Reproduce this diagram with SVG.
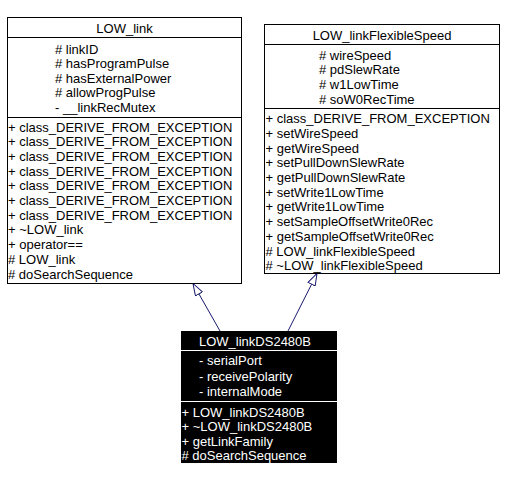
<svg xmlns="http://www.w3.org/2000/svg" width="505" height="481" viewBox="0 0 505 481">
<style>
text{font-family:"Liberation Sans",Arial,Helvetica,sans-serif;font-size:13px;fill:#000}
.w text{fill:#fff}
.box{fill:#fff;stroke:#000;stroke-width:1}
.sep{stroke:#000;stroke-width:1}
.wsep{stroke:#fff;stroke-width:1}
.edge{stroke:#191970;stroke-width:1;fill:none;marker-end:url(#inh)}
.t{text-anchor:middle}
</style>
<defs>
<marker id="inh" viewBox="0 0 13 9" refX="12.5" refY="4.5" markerWidth="13" markerHeight="9" markerUnits="userSpaceOnUse" orient="auto">
<path d="M0.5,0.5 L12.5,4.5 L0.5,8.5 Z" fill="#fff" stroke="#191970" stroke-width="1"/>
</marker>
</defs>
<g id="connectors">
<line class="edge" x1="220" y1="331" x2="193" y2="283.5"/>
<line class="edge" x1="288" y1="331" x2="317" y2="273.5"/>
</g>
<g id="LOW_link">
<rect class="box" x="7.5" y="17.5" width="234" height="266"/>
<line class="sep" x1="7.5" y1="37.5" x2="241.5" y2="37.5"/>
<line class="sep" x1="7.5" y1="117.5" x2="241.5" y2="117.5"/>
<text class="t" x="124.5" y="32.5">LOW_link</text>
<text x="55" y="53.5"># linkID</text>
<text x="55" y="68"># hasProgramPulse</text>
<text x="55" y="82.5"># hasExternalPower</text>
<text x="55" y="97"># allowProgPulse</text>
<text x="55" y="111.5">- __linkRecMutex</text>
<text x="8" y="131.5">+ class_DERIVE_FROM_EXCEPTION</text>
<text x="8" y="146.2">+ class_DERIVE_FROM_EXCEPTION</text>
<text x="8" y="160.9">+ class_DERIVE_FROM_EXCEPTION</text>
<text x="8" y="175.6">+ class_DERIVE_FROM_EXCEPTION</text>
<text x="8" y="190.3">+ class_DERIVE_FROM_EXCEPTION</text>
<text x="8" y="205">+ class_DERIVE_FROM_EXCEPTION</text>
<text x="8" y="219.7">+ class_DERIVE_FROM_EXCEPTION</text>
<text x="8" y="234.4">+ ~LOW_link</text>
<text x="8" y="249.1">+ operator==</text>
<text x="8" y="263.8"># LOW_link</text>
<text x="8" y="278.5"># doSearchSequence</text>
</g>
<g id="LOW_linkFlexibleSpeed">
<rect class="box" x="264.5" y="24.5" width="235" height="249"/>
<line class="sep" x1="264.5" y1="44.5" x2="499.5" y2="44.5"/>
<line class="sep" x1="264.5" y1="108.5" x2="499.5" y2="108.5"/>
<text class="t" x="382" y="39.5">LOW_linkFlexibleSpeed</text>
<text x="319" y="59.5"># wireSpeed</text>
<text x="319" y="74.2"># pdSlewRate</text>
<text x="319" y="88.9"># w1LowTime</text>
<text x="319" y="103.6"># soW0RecTime</text>
<text x="265.5" y="123.2">+ class_DERIVE_FROM_EXCEPTION</text>
<text x="265.5" y="137.9">+ setWireSpeed</text>
<text x="265.5" y="152.6">+ getWireSpeed</text>
<text x="265.5" y="167.3">+ setPullDownSlewRate</text>
<text x="265.5" y="182">+ getPullDownSlewRate</text>
<text x="265.5" y="196.7">+ setWrite1LowTime</text>
<text x="265.5" y="211.4">+ getWrite1LowTime</text>
<text x="265.5" y="226.1">+ setSampleOffsetWrite0Rec</text>
<text x="265.5" y="240.8">+ getSampleOffsetWrite0Rec</text>
<text x="265.5" y="255.5"># LOW_linkFlexibleSpeed</text>
<text x="265.5" y="270.2"># ~LOW_linkFlexibleSpeed</text>
</g>
<g id="LOW_linkDS2480B" class="w">
<rect x="181" y="331" width="156" height="132" fill="#000"/>
<line class="wsep" x1="181" y1="350.5" x2="337" y2="350.5"/>
<line class="wsep" x1="181" y1="401.5" x2="337" y2="401.5"/>
<text class="t" x="255" y="345.5">LOW_linkDS2480B</text>
<text x="199" y="365.2">- serialPort</text>
<text x="199" y="380.5">- receivePolarity</text>
<text x="199" y="396.2">- internalMode</text>
<text x="181.5" y="416.8">+ LOW_linkDS2480B</text>
<text x="181.5" y="431.2">+ ~LOW_linkDS2480B</text>
<text x="181.5" y="445.5">+ getLinkFamily</text>
<text x="181.5" y="460.2"># doSearchSequence</text>
</g>
</svg>
